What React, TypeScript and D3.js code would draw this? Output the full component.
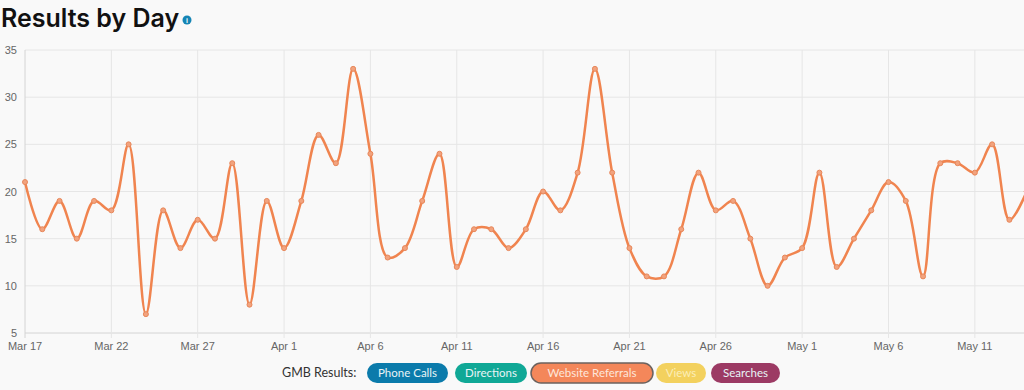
import { useEffect, useRef } from "react";
import * as d3 from "d3";

// daily website referrals, Mar 17 -> May 14
const startDate = new Date(2020, 2, 17);
const values = [
  21, 16, 19, 15, 19, 18, 25, 7, 18, 14, 17, 15, 23, 8, 19,
  14, 19, 26, 23, 33, 24, 13, 14, 19, 24, 12, 16, 16, 14, 16,
  20, 18, 22, 33, 22, 14, 11, 11, 16, 22, 18, 19, 15, 10, 13,
  14, 22, 12, 15, 18, 21, 19, 11, 23, 23, 22, 25, 17, 20,
];
const yTicks = [5, 10, 15, 20, 25, 30, 35];
const legendItems = ["Phone Calls", "Directions", "Website Referrals", "Views", "Searches"];
const legendColors = ["#0b7bab", "#10a896", "#f4875a", "#f3d15e", "#9c3a64"];

const W = 1024;
const H = 390;

const App = () => {
  const ref = useRef<SVGSVGElement>(null);

  useEffect(() => {
    const svg = d3.select(ref.current);
    svg.selectAll("*").remove();

    const data = values.map((v, i) => ({ date: d3.timeDay.offset(startDate, i), v }));

    const left = 25;
    const dayPx = 17.27;
    const x = d3
      .scaleTime()
      .domain([startDate, d3.timeDay.offset(startDate, values.length - 1)])
      .range([left, left + dayPx * (values.length - 1)]);
    const y = d3.scaleLinear().domain([5, 35]).range([333, 50]);

    svg.append("rect").attr("width", W).attr("height", H).attr("fill", "#f9f9f9");

    // title
    svg
      .append("text")
      .attr("x", 1)
      .attr("y", 27)
      .attr("font-family", "Inter, 'Noto Sans', sans-serif")
      .attr("font-weight", 600)
      .attr("font-size", 25)
      .attr("fill", "#111")
      .text("Results by Day");
    svg.append("circle").attr("cx", 187).attr("cy", 20).attr("r", 4.5).attr("fill", "#1585b5");
    svg
      .append("text")
      .attr("x", 187)
      .attr("y", 23)
      .attr("text-anchor", "middle")
      .attr("font-family", "Liberation Sans, sans-serif")
      .attr("font-weight", 700)
      .attr("font-size", 7)
      .attr("fill", "#fff")
      .text("i");

    // grid: a vertical line every 5 days from the first day
    const xTicks = d3
      .range(0, values.length, 5)
      .map((i) => d3.timeDay.offset(startDate, i));

    svg
      .append("g")
      .selectAll("line")
      .data(yTicks)
      .join("line")
      .attr("x1", left)
      .attr("x2", W)
      .attr("y1", (d) => y(d))
      .attr("y2", (d) => y(d))
      .attr("stroke", (d) => (d === 5 ? "#d4d4d4" : "#e6e6e6"))
      .attr("stroke-width", 1);
    svg
      .append("g")
      .selectAll("line")
      .data(xTicks)
      .join("line")
      .attr("x1", (d) => x(d))
      .attr("x2", (d) => x(d))
      .attr("y1", y(35))
      .attr("y2", y(5) + 5)
      .attr("stroke", (_, i) => (i === 0 ? "#d4d4d4" : "#e6e6e6"))
      .attr("stroke-width", 1);

    // y tick labels
    svg
      .append("g")
      .selectAll("text")
      .data(yTicks)
      .join("text")
      .attr("x", 17)
      .attr("y", (d) => y(d) + 4)
      .attr("text-anchor", "end")
      .attr("font-family", "Liberation Sans, Arial, sans-serif")
      .attr("font-size", 11)
      .attr("fill", "#666")
      .text((d) => d);

    // x tick labels
    const fmt = d3.timeFormat("%b %-d");
    svg
      .append("g")
      .selectAll("text")
      .data(xTicks)
      .join("text")
      .attr("x", (d) => x(d))
      .attr("y", 350)
      .attr("text-anchor", "middle")
      .attr("font-family", "Liberation Sans, Arial, sans-serif")
      .attr("font-size", 11)
      .attr("fill", "#666")
      .text((d) => fmt(d));

    // line
    const line = d3
      .line<{ date: Date; v: number }>()
      .x((d) => x(d.date))
      .y((d) => y(d.v))
      .curve(d3.curveCatmullRom.alpha(0.5));

    svg
      .append("path")
      .datum(data)
      .attr("fill", "none")
      .attr("stroke", "#f0844f")
      .attr("stroke-width", 2.5)
      .attr("d", line);

    svg
      .append("g")
      .selectAll("circle")
      .data(data)
      .join("circle")
      .attr("cx", (d) => x(d.date))
      .attr("cy", (d) => y(d.v))
      .attr("r", 2.5)
      .attr("fill", "#f2a37e")
      .attr("stroke", "#e8875a")
      .attr("stroke-width", 1);

    // legend
    svg
      .append("text")
      .attr("x", 282)
      .attr("y", 377)
      .attr("font-family", "Lato, 'Noto Sans', sans-serif")
      .attr("font-size", 12.5)
      .attr("fill", "#333")
      .text("GMB Results:");

    const pillX = [367, 455, 531, 656, 711];
    const pillW = [81, 72, 122, 50, 69];
    const pills = svg
      .append("g")
      .selectAll("g")
      .data(legendItems)
      .join("g")
      .attr("transform", (_, i) => `translate(${pillX[i]},363)`);
    pills
      .append("rect")
      .attr("width", (_, i) => pillW[i])
      .attr("height", 20)
      .attr("rx", 10)
      .attr("fill", (_, i) => legendColors[i])
      .attr("stroke", (d) => (d === "Website Referrals" ? "#6b625e" : "none"))
      .attr("stroke-width", 1.5);
    pills
      .append("text")
      .attr("x", (_, i) => pillW[i] / 2)
      .attr("y", 14)
      .attr("text-anchor", "middle")
      .attr("font-family", "Lato, 'Noto Sans', sans-serif")
      .attr("font-size", 11.5)
      .attr("fill", (d) => (d === "Views" ? "#fbeeb7" : d === "Website Referrals" ? "#fde6da" : "#e8f4f6"))
      .text((d) => d);
  }, []);

  return (
    <svg
      ref={ref}
      width={W}
      height={H}
      style={{ position: "absolute", left: 0, top: 0, display: "block" }}
    />
  );
};

export default App;
